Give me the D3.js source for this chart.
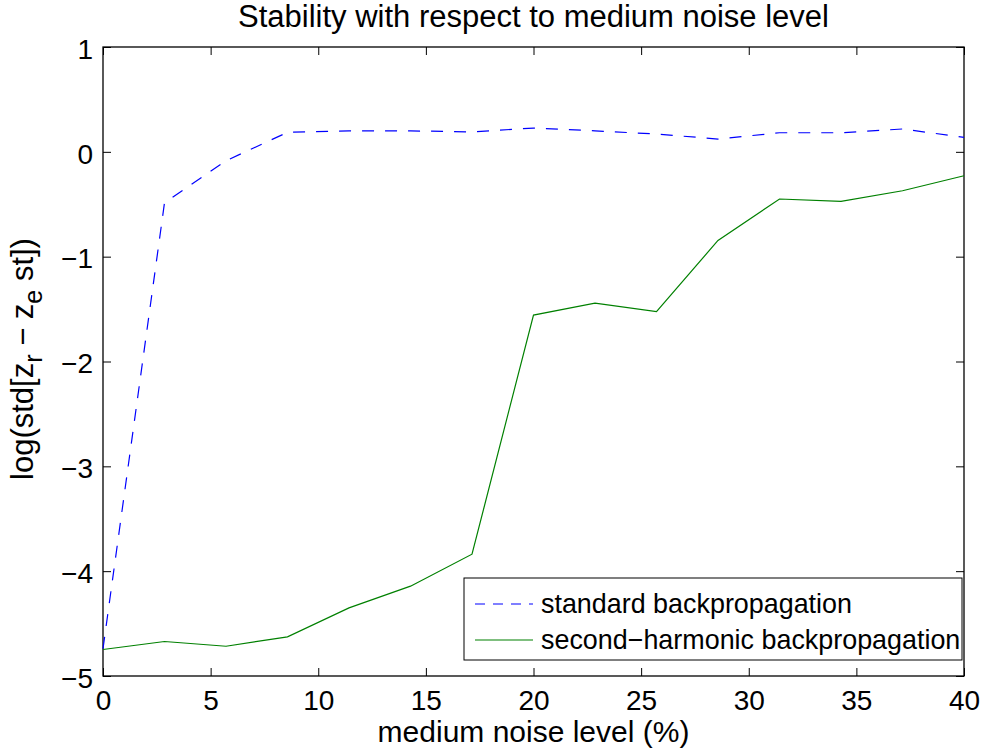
<!DOCTYPE html>
<html>
<head>
<meta charset="utf-8">
<script src="https://cdn.jsdelivr.net/npm/d3@7"></script>
<style>
  html, body { margin: 0; padding: 0; background: #fff; }
  text { font-family: "Liberation Sans", Arial, Helvetica, sans-serif; fill: #000; }
</style>
</head>
<body>
<svg id="chart" width="985" height="754"></svg>
<script>
// Noise levels (%) at which both methods were evaluated
const noiseLevels = [0, 2.857, 5.714, 8.571, 11.429, 14.286, 17.143, 20, 22.857, 25.714, 28.571, 31.429, 34.286, 37.143, 40];
// log10 of the reconstruction error std for each method
const standardBP = [-4.74, -0.486, -0.085, 0.186, 0.20, 0.20, 0.19, 0.227, 0.20, 0.17, 0.122, 0.182, 0.182, 0.218, 0.138];
const secondHarmonicBP = [-4.747, -4.671, -4.716, -4.627, -4.35, -4.143, -3.838, -1.557, -1.443, -1.525, -0.845, -0.45, -0.472, -0.371, -0.228];
const xTicks = [0, 5, 10, 15, 20, 25, 30, 35, 40];
const yTicks = [1, 0, -1, -2, -3, -4, -5];
const seriesNames = ["standard backpropagation", "second\u2212harmonic backpropagation"];

const svg = d3.select("#chart");
const plotL = 103, plotR = 964, plotT = 47, plotB = 676;

const x = d3.scaleLinear().domain([0, 40]).range([plotL, plotR]);
const y = d3.scaleLinear().domain([-5, 1]).range([plotB, plotT]);

const fmt = d => (d < 0 ? "\u2212" + Math.abs(d) : String(d));

// Title
svg.append("text")
  .attr("x", (plotL + plotR) / 2).attr("y", 27)
  .attr("text-anchor", "middle").attr("font-size", 31)
  .text("Stability with respect to medium noise level");

// Axes with inward ticks on all four sides
const tickLen = 8;
const axB = svg.append("g").attr("transform", `translate(0,${plotB})`)
  .call(d3.axisBottom(x).tickValues(xTicks).tickSizeInner(-tickLen).tickSizeOuter(0).tickPadding(0).tickFormat(fmt));
const axT = svg.append("g").attr("transform", `translate(0,${plotT})`)
  .call(d3.axisTop(x).tickValues(xTicks).tickSizeInner(-tickLen).tickSizeOuter(0).tickFormat(""));
const axL = svg.append("g").attr("transform", `translate(${plotL},0)`)
  .call(d3.axisLeft(y).tickValues(yTicks).tickSizeInner(-tickLen).tickSizeOuter(0).tickPadding(10).tickFormat(fmt));
const axR = svg.append("g").attr("transform", `translate(${plotR},0)`)
  .call(d3.axisRight(y).tickValues(yTicks).tickSizeInner(-tickLen).tickSizeOuter(0).tickFormat(""));

[axB, axT, axL, axR].forEach(g => {
  g.select(".domain").remove();
  g.selectAll("line").attr("stroke", "#000").attr("stroke-width", 1);
  g.selectAll("text").attr("font-size", 28).attr("font-family", "Liberation Sans, Arial, sans-serif").attr("fill", "#000");
});
axB.selectAll("text").attr("y", 34).attr("dy", null);
axL.selectAll("text").attr("dy", "0.4em");

// Plot frame
svg.append("rect")
  .attr("x", plotL).attr("y", plotT).attr("width", plotR - plotL).attr("height", plotB - plotT)
  .attr("fill", "none").attr("stroke", "#000").attr("stroke-width", 1.3);

// Series lines
const line = vals => d3.line().x((d, i) => x(noiseLevels[i])).y(d => y(d))(vals);

svg.append("path").attr("d", line(standardBP))
  .attr("fill", "none").attr("stroke", "#0000ff").attr("stroke-width", 1.2)
  .attr("stroke-dasharray", "12,11");
svg.append("path").attr("d", line(secondHarmonicBP))
  .attr("fill", "none").attr("stroke", "#008000").attr("stroke-width", 1.2);

// Axis labels
svg.append("text")
  .attr("x", (plotL + plotR) / 2).attr("y", 742)
  .attr("text-anchor", "middle").attr("font-size", 30)
  .text("medium noise level (%)");

const yl = svg.append("text")
  .attr("transform", `translate(33,359) rotate(-90)`)
  .attr("text-anchor", "middle").attr("font-size", 31);
yl.append("tspan").text("log(std[z");
yl.append("tspan").attr("font-size", 25).attr("dy", 9).text("r");
yl.append("tspan").attr("dy", -9).text(" \u2212 z");
yl.append("tspan").attr("font-size", 25).attr("dy", 9).text("e");
yl.append("tspan").attr("dy", -9).text(" st])");

// Legend
const lg = svg.append("g");
lg.append("rect").attr("x", 464).attr("y", 578).attr("width", 498).attr("height", 82)
  .attr("fill", "#fff").attr("stroke", "#000").attr("stroke-width", 1);
const legendRows = [
  { name: seriesNames[0], color: "#0000ff", dash: "10,8", cy: 604 },
  { name: seriesNames[1], color: "#008000", dash: null, cy: 640 }
];
legendRows.forEach(r => {
  lg.append("line").attr("x1", 475).attr("x2", 533).attr("y1", r.cy).attr("y2", r.cy)
    .attr("stroke", r.color).attr("stroke-width", 1.2)
    .attr("stroke-dasharray", r.dash);
  lg.append("text").attr("x", 541).attr("y", r.cy).attr("dy", "0.35em")
    .attr("font-size", 26.9).text(r.name);
});
</script>
</body>
</html>
